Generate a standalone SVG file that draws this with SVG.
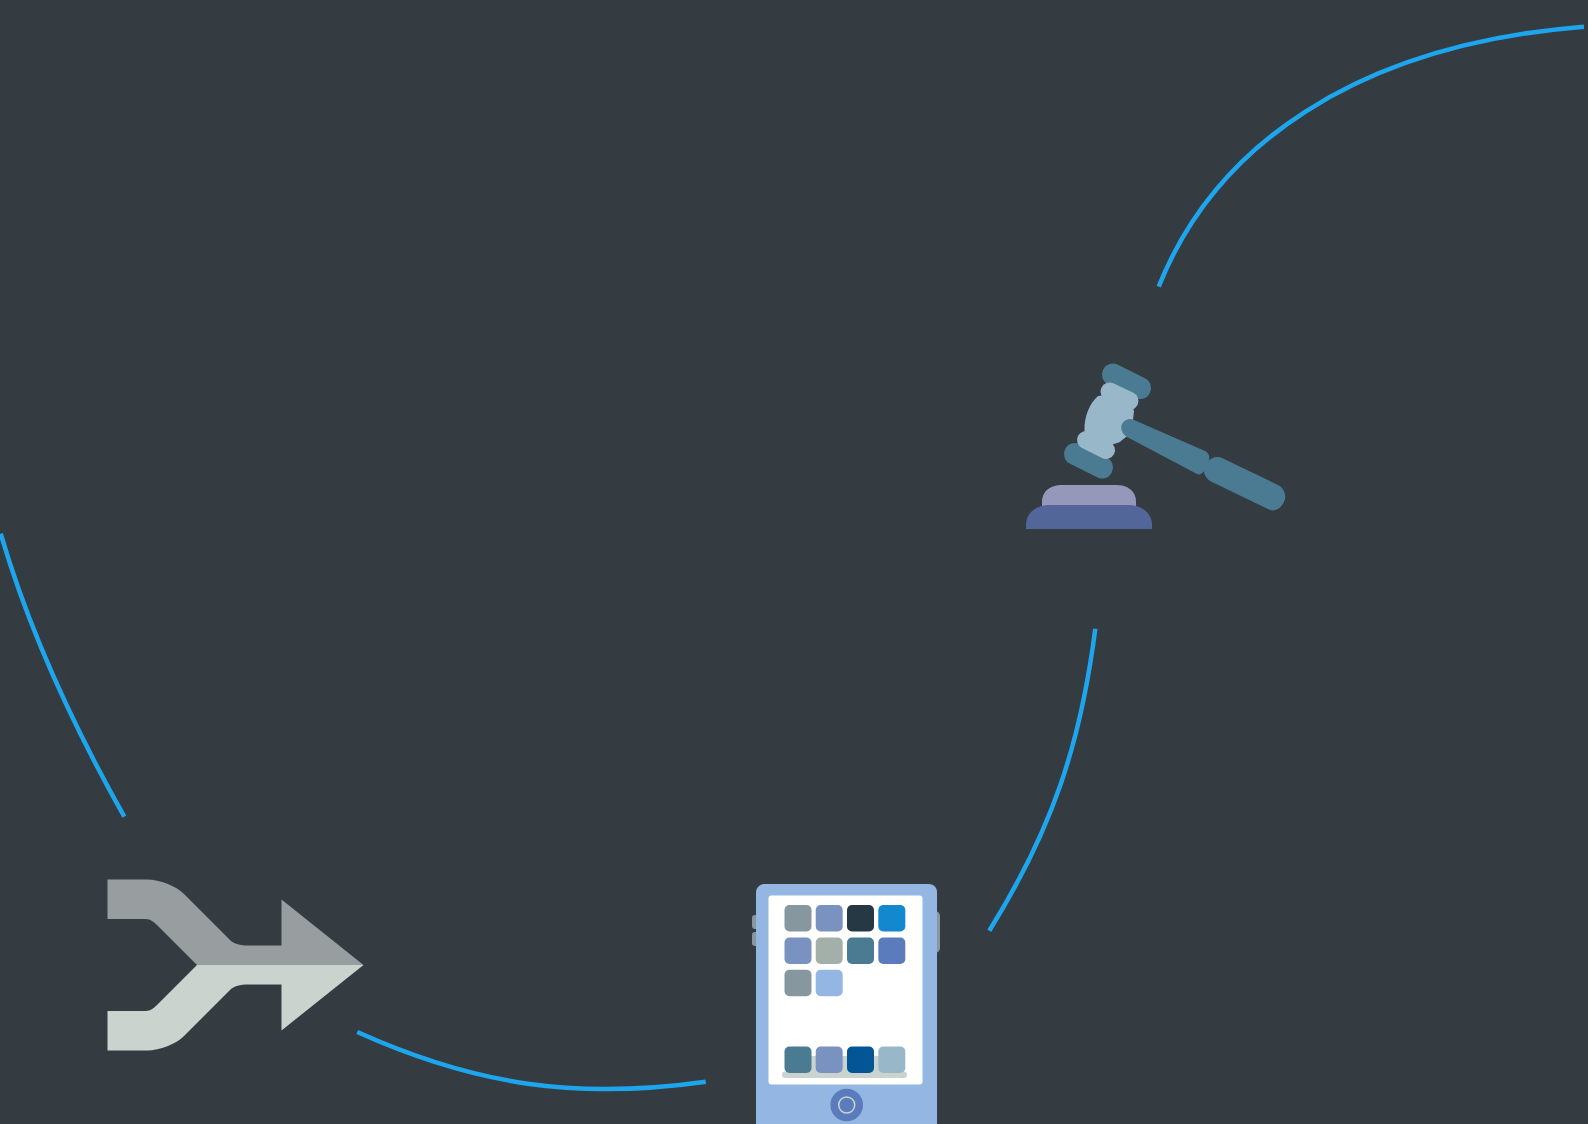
<svg xmlns="http://www.w3.org/2000/svg" width="1588" height="1124" viewBox="0 0 1588 1124">
<style>
.c{fill:none;stroke:#1da6ee;stroke-width:4.500}
.a{fill:#4a7b92}
.l{fill:#98b8ca}
.ac{fill:none;stroke:#4a7b92;stroke-linecap:round}
.lc{fill:none;stroke:#98b8ca;stroke-width:18;stroke-linecap:round}
</style>
<rect width="1588" height="1124" fill="#343c42"/>
<g id="connectors">
<path class="c" d="M1158.700 286.700C1214.200 147.200 1354 45.100 1584 26.700"/>
<path class="c" d="M1095.300 628.700C1080.700 742.600 1052.900 828.700 989.300 930.700"/>
<path class="c" d="M357.300 1032C475.600 1085.300 577 1099.900 705.700 1081.700"/>
<path class="c" d="M0.700 533.700C28.700 629.700 75.300 729.700 124.300 816.700"/>
</g>
<g id="gavel">
<path d="M1042 506V502C1042 490 1052 485 1062 485H1116C1128 485 1136 491 1136 502V506Z" fill="#9698bb"/>
<path d="M1026 529V525C1026 513 1036 505 1050 505H1128C1143 505 1152 514 1152 525V529Z" fill="#52669a"/>
<path class="ac" stroke-width="22" d="M1113 374.500L1140 388"/>
<path class="ac" stroke-width="22" d="M1075 454L1102 467.500"/>
<path class="lc" d="M1109.500 391.500L1129.500 401"/>
<path class="lc" d="M1086 440L1106 450"/>
<path class="l" d="M1098 396C1090 403 1084 416 1084.500 431L1096 450L1120 442C1124 438 1129 436 1132 429L1134 411L1128 392Z"/>
<path class="a" d="M1134 420L1205 451C1209 453 1210 457 1209 461L1204 471C1202 474 1199 475 1197 474L1127 437C1122 434 1120 428 1122 424C1125 419 1130 418 1134 420Z"/>
<path class="a" d="M1222 458L1278 485C1284 488 1286 495 1285 499C1283 507 1276 512 1270 510L1212 482C1206 479 1203 473 1204 468L1208 462C1211 457 1218 456 1222 458Z"/>
</g>
<g id="tablet">
<rect x="752" y="915" width="8" height="14" rx="3" fill="#87979f"/>
<rect x="752" y="932" width="8" height="14" rx="3" fill="#87979f"/>
<rect x="930" y="911" width="10" height="42" rx="5" fill="#87979f"/>
<path d="M756 1124V892C756 888 760 884 764 884H929C934 884 937 888 937 892V1124Z" fill="#93b6e2"/>
<rect x="768.500" y="895.500" width="154" height="189" rx="3" fill="#fff"/>
<rect x="795" y="1056" width="100" height="18" fill="#cbd3cf"/>
<rect x="782" y="1071.500" width="125" height="6.500" rx="3.200" fill="#cbd3cf"/>
<rect x="784.500" y="905" width="27" height="26.500" rx="5" fill="#87979f"/>
<rect x="815.700" y="905" width="27" height="26.500" rx="5" fill="#7a92c0"/>
<rect x="847" y="905" width="27" height="26.500" rx="5" fill="#263843"/>
<rect x="878.300" y="905" width="27" height="26.500" rx="5" fill="#1388cf"/>
<rect x="784.500" y="937.500" width="27" height="26.500" rx="5" fill="#7a92c0"/>
<rect x="815.700" y="937.500" width="27" height="26.500" rx="5" fill="#a3b0aa"/>
<rect x="847" y="937.500" width="27" height="26.500" rx="5" fill="#4a7b92"/>
<rect x="878.300" y="937.500" width="27" height="26.500" rx="5" fill="#5a7cbd"/>
<rect x="784.500" y="969.700" width="27" height="26.500" rx="5" fill="#87979f"/>
<rect x="815.700" y="969.700" width="27" height="26.500" rx="5" fill="#93b6e2"/>
<rect x="784.500" y="1046.500" width="27" height="26.500" rx="5" fill="#4a7b92"/>
<rect x="815.700" y="1046.500" width="27" height="26.500" rx="5" fill="#7a92c0"/>
<rect x="847" y="1046.500" width="27" height="26.500" rx="5" fill="#045595"/>
<rect x="878.300" y="1046.500" width="27" height="26.500" rx="5" fill="#98b8ca"/>
<circle cx="846.700" cy="1105" r="16.300" fill="#5a7cbd"/>
<circle cx="846.700" cy="1105" r="8" fill="none" stroke="#cbd3cf" stroke-width="1.500"/>
</g>
<g id="shuffle">
<path d="M107.500 879.500H147C160 879.500 176 886 184 894L230 940C234 944 240 945.500 248 945.500H281.500V899.500L363.500 965H197L157 925C154 922 150 919 146 919H107.500Z" fill="#989da0"/>
<path d="M107.500 1050.500H147C160 1050.500 176 1044 184 1036L230 990C234 986 240 984.500 248 984.500H281.500V1030.500L363.500 965H197L157 1005C154 1008 150 1011 146 1011H107.500Z" fill="#cbd3cf"/>
</g>
</svg>
